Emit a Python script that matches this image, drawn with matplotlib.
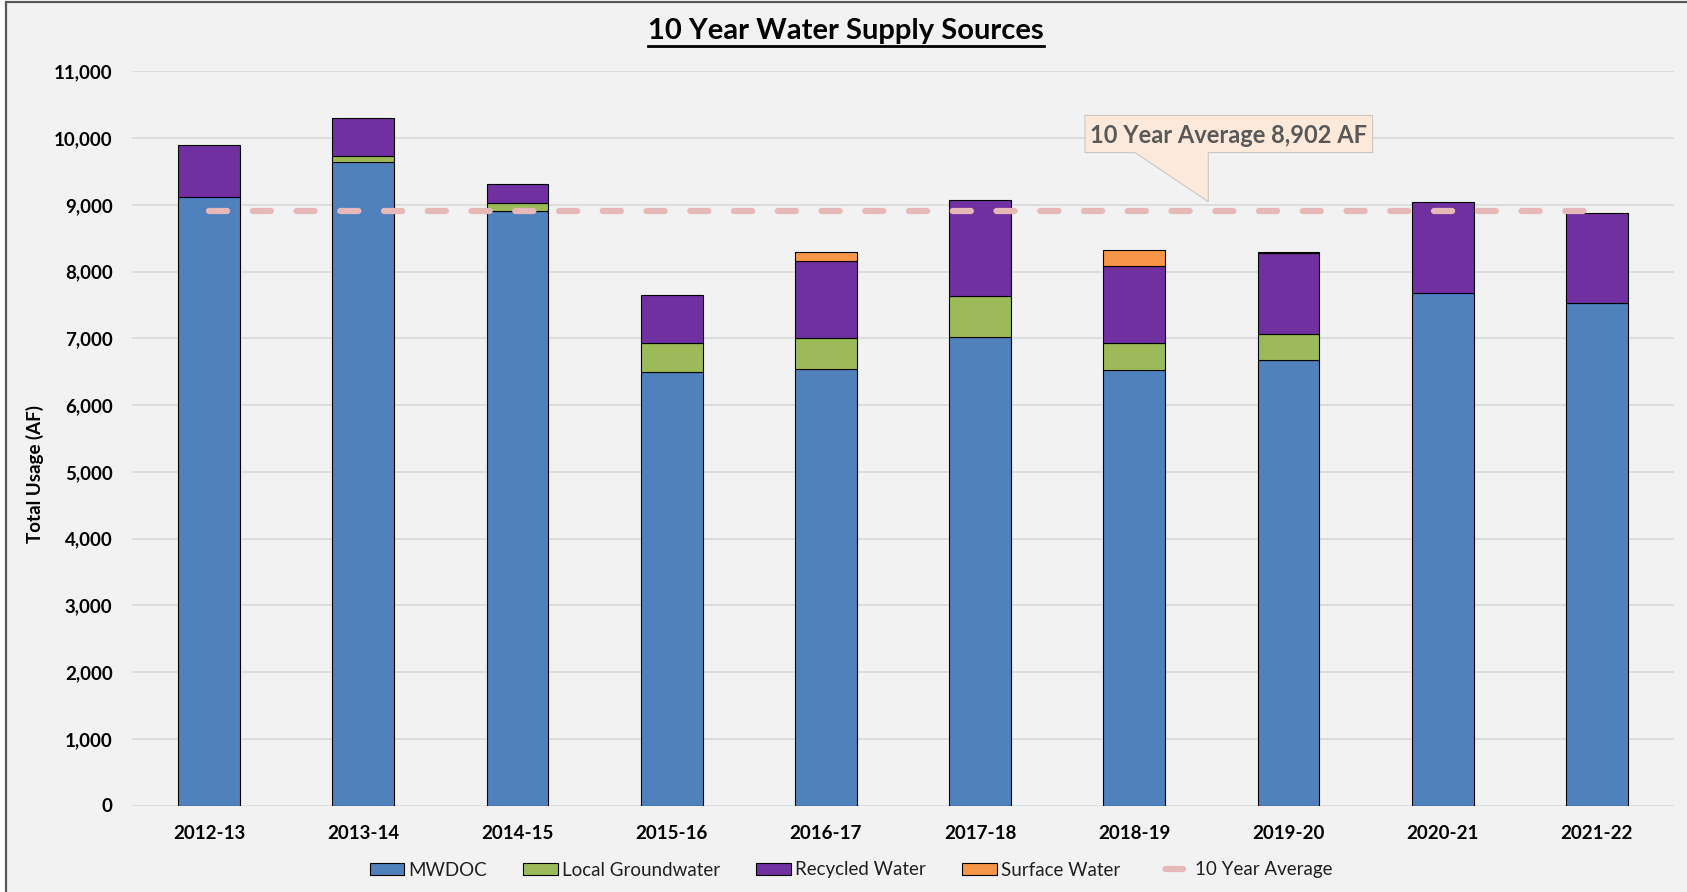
import numpy as np
import matplotlib
matplotlib.use('Agg')
import matplotlib.pyplot as plt
from matplotlib.patches import Patch, Rectangle, Polygon
from matplotlib.lines import Line2D
from matplotlib.ticker import FuncFormatter

plt.rcParams['font.family'] = ['Lato', 'DejaVu Sans']

# data (acre-feet)
years = ['2012-13', '2013-14', '2014-15', '2015-16', '2016-17',
         '2017-18', '2018-19', '2019-20', '2020-21', '2021-22']
mwdoc = [9120, 9640, 8910, 6500, 6540, 7015, 6520, 6675, 7675, 7535]
groundwater = [0, 90, 115, 435, 460, 615, 405, 390, 0, 0]
recycled = [770, 570, 285, 720, 1160, 1440, 1160, 1210, 1370, 1335]
surface = [0, 0, 0, 0, 140, 0, 240, 20, 0, 0]
ten_year_avg = 8902

series = [('MWDOC', mwdoc, '#4F81BD'),
          ('Local Groundwater', groundwater, '#9BBB59'),
          ('Recycled Water', recycled, '#7030A0'),
          ('Surface Water', surface, '#F79646')]
AVG_COLOR = '#E6B9B8'

W, H = 1687, 892
fig = plt.figure(figsize=(W / 100, H / 100), dpi=100, facecolor='white')

# grey panel with dark frame (left/top edges visible)
frame = Rectangle((6 / W, -0.1), 1.2, 1.1 - 1.5 / H, transform=fig.transFigure,
                  facecolor='#F2F2F2', edgecolor='#595959', linewidth=1.6, zorder=-10)
fig.patches.append(frame)

ax = fig.add_axes([132 / W, 1 - 805.5 / H, 1542 / W, 734.2 / H])
ax.set_facecolor('none')

x = np.arange(len(years))
bottom = np.zeros(len(years))
for name, vals, color in series:
    vals = np.array(vals, dtype=float)
    lw = np.where(vals > 0, 0.8, 0.0)
    ax.bar(x, vals, 0.4, bottom=bottom, color=color, edgecolor='black',
           linewidth=lw, zorder=3)
    bottom += vals

# 10 year average dashed line
avg_style = (0, (2.9, 4.1))
ax.plot(x, [ten_year_avg] * len(years), color=AVG_COLOR, linewidth=4.5,
        linestyle=avg_style, dash_capstyle='round', zorder=4)

ax.set_xlim(-0.5, len(years) - 0.5)
ax.set_ylim(0, 11000)
ax.set_yticks(np.arange(0, 11001, 1000))
ax.yaxis.set_major_formatter(FuncFormatter(lambda v, p: '{:,}'.format(int(v))))
ax.set_xticks(x)
ax.set_xticklabels(years)
ax.tick_params(axis='both', length=0, labelsize=13.5)
ax.tick_params(axis='y', pad=14)
ax.tick_params(axis='x', pad=14)
for lab in ax.get_xticklabels() + ax.get_yticklabels():
    lab.set_fontweight('bold')
ax.grid(axis='y', color='#D9D9D9', linewidth=1.2, zorder=0)
ax.set_axisbelow(True)
for s in ax.spines.values():
    s.set_visible(False)

fig.text(35 / W, 1 - 474 / H, 'Total Usage (AF)', rotation=90, ha='center',
         va='center', fontsize=13.5, fontweight='bold')

# callout box with pointer
cx0, cx1 = 5.68, 7.545
cy_top, cy_bot = 10338, 9782
tail_left, tip_x, tip_y = 6.005, 6.48, 9047
callout = Polygon([(cx0, cy_top), (cx1, cy_top), (cx1, cy_bot), (tip_x, cy_bot),
                   (tip_x, tip_y), (tail_left, cy_bot), (cx0, cy_bot)],
                  closed=True, facecolor='#FDE9D9', edgecolor='#C8C8C8',
                  linewidth=0.8, zorder=5)
ax.add_patch(callout)
ax.text((cx0 + cx1) / 2, (cy_top + cy_bot) / 2 - 20,
        '10 Year Average {:,} AF'.format(ten_year_avg), ha='center', va='center',
        fontsize=17, fontweight='bold', color='#595959', zorder=6)

# title with underline
title = fig.text(846 / W, 1 - 39 / H, '10 Year Water Supply Sources', ha='center',
                 va='baseline', fontsize=21, fontweight='bold')
fig.canvas.draw()
bb = title.get_window_extent(fig.canvas.get_renderer()).transformed(fig.transFigure.inverted())
fig.add_artist(Line2D([bb.x0, bb.x1], [1 - 46 / H] * 2, transform=fig.transFigure,
                      color='black', linewidth=2.0))

# legend
handles = [Patch(facecolor=c, edgecolor='black', linewidth=0.8, label=n)
           for n, v, c in series]
handles.append(Line2D([0], [0], color=AVG_COLOR, linewidth=4.5,
                      linestyle=(9.67, (2.83, 8.34)), dash_capstyle='round',
                      label='10 Year Average'))
leg = fig.legend(handles=handles, loc='center', bbox_to_anchor=(851 / W, 1 - 870 / H),
                 ncol=5, frameon=False, fontsize=13.5, handlelength=1.85,
                 handleheight=0.65, handletextpad=0.2, columnspacing=1.95)
for t in leg.get_texts():
    t.set_color('#202020')

fig.savefig('out.png', dpi=100, facecolor=fig.get_facecolor())
